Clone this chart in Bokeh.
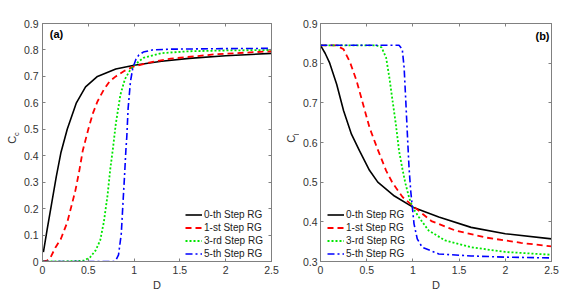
import math
from bokeh.plotting import figure
from bokeh.models import LinearAxis, FixedTicker, Label, Range1d
from bokeh.layouts import row
from bokeh.embed import file_html
from bokeh.resources import INLINE

# ---------------- data ----------------
series_names = ["0-th Step RG", "1-st Step RG", "3-rd Step RG", "5-th Step RG"]

# panel (a): C_c vs D
a0_D = [0.01, 0.05, 0.1, 0.15, 0.2, 0.27, 0.37, 0.47, 0.6, 0.8, 1.0, 1.3, 1.6, 2.0, 2.5]
a0_C = [0.035, 0.12, 0.22, 0.32, 0.41, 0.50, 0.60, 0.66, 0.70, 0.728, 0.742, 0.757, 0.768, 0.778, 0.787]

a1_D = [0, 0.05, 0.09, 0.14, 0.2, 0.27, 0.32, 0.36, 0.4, 0.44, 0.5, 0.55, 0.6, 0.67, 0.73, 0.8, 0.9, 1.0, 1.2, 1.4, 1.9, 2.5]
a1_C = [0, 0.003, 0.017, 0.052, 0.085, 0.148, 0.215, 0.27, 0.34, 0.42, 0.50, 0.56, 0.605, 0.65, 0.68, 0.70, 0.722, 0.738, 0.755, 0.767, 0.784, 0.795]

a3_D = [0, 0.2, 0.45, 0.52, 0.58, 0.63, 0.67, 0.71, 0.74, 0.77, 0.8, 0.85, 0.9, 0.95, 1.0, 1.1, 1.3, 1.6, 2.0, 2.5]
a3_C = [0, 0, 0.003, 0.016, 0.042, 0.08, 0.15, 0.25, 0.35, 0.43, 0.52, 0.63, 0.69, 0.72, 0.742, 0.77, 0.788, 0.795, 0.798, 0.80]

a5_D = [0, 0.78, 0.8, 0.83, 0.86, 0.88, 0.895, 0.91, 0.92, 0.935, 0.96, 0.985, 1.0, 1.02, 1.05, 1.1, 1.2, 1.4, 2.0, 2.5]
a5_C = [0, 0, 0.004, 0.025, 0.105, 0.23, 0.32, 0.42, 0.47, 0.58, 0.68, 0.73, 0.745, 0.765, 0.78, 0.792, 0.80, 0.803, 0.805, 0.806]

# panel (b): C_l vs D
b0_D = [0, 0.05, 0.1, 0.175, 0.25, 0.335, 0.42, 0.53, 0.62, 0.8, 1.0, 1.28, 1.63, 2.0, 2.5]
b0_C = [0.845, 0.825, 0.80, 0.747, 0.68, 0.621, 0.58, 0.53, 0.50, 0.465, 0.437, 0.412, 0.386, 0.37, 0.357]

b1_D = [0, 0.17, 0.25, 0.32, 0.39, 0.44, 0.53, 0.61, 0.71, 0.78, 0.89, 1.0, 1.2, 1.46, 1.8, 2.17, 2.5]
b1_C = [0.845, 0.845, 0.835, 0.802, 0.756, 0.714, 0.638, 0.588, 0.529, 0.498, 0.462, 0.44, 0.402, 0.378, 0.36, 0.347, 0.338]

b3_D = [0, 0.6, 0.66, 0.71, 0.745, 0.78, 0.815, 0.85, 0.89, 0.92, 0.96, 1.0, 1.07, 1.17, 1.35, 1.63, 2.0, 2.5]
b3_C = [0.845, 0.845, 0.84, 0.814, 0.764, 0.705, 0.647, 0.579, 0.529, 0.496, 0.46, 0.435, 0.41, 0.378, 0.353, 0.336, 0.324, 0.317]

b5_D = [0, 0.85, 0.885, 0.905, 0.923, 0.94, 0.958, 0.976, 0.994, 1.012, 1.047, 1.1, 1.28, 1.63, 2.0, 2.5]
b5_C = [0.845, 0.845, 0.835, 0.789, 0.705, 0.622, 0.537, 0.479, 0.437, 0.395, 0.357, 0.336, 0.319, 0.314, 0.311, 0.309]

x_ticks = [0, 0.5, 1, 1.5, 2, 2.5]
x_tick_labels = ["0", "0.5", "1", "1.5", "2", "2.5"]
ya_ticks = [0, 0.1, 0.2, 0.3, 0.4, 0.5, 0.6, 0.7, 0.8, 0.9]
ya_tick_labels = ["0", "0.1", "0.2", "0.3", "0.4", "0.5", "0.6", "0.7", "0.8", "0.9"]
yb_ticks = [0.3, 0.4, 0.5, 0.6, 0.7, 0.8, 0.9]
yb_tick_labels = ["0.3", "0.4", "0.5", "0.6", "0.7", "0.8", "0.9"]

# ---------------- styles ----------------
colors = ["#000000", "#ff0000", "#00e600", "#0000ff"]
dashes = ["solid", "6 4", "2 2", "7 3 2 3"]
widths = [1.6, 1.8, 1.8, 1.6]
FONT = "Liberation Sans"
AX_COLOR = "#808080"
TXT_COLOR = "#333333"
H = 295


def key(v):
    return int(v) if float(v).is_integer() else v


def style_axis(ax, ticks, labels, show_labels=True, standoff=4):
    ax.ticker = FixedTicker(ticks=ticks)
    ax.axis_line_color = AX_COLOR
    ax.major_tick_line_color = AX_COLOR
    ax.major_tick_in = 3
    ax.major_tick_out = 0
    ax.minor_tick_line_color = None
    ax.major_label_text_font = FONT
    if show_labels:
        ax.major_label_overrides = {key(t): l for t, l in zip(ticks, labels)}
        ax.major_label_text_color = TXT_COLOR
        ax.major_label_text_font_size = "10.5px"
        ax.major_label_standoff = standoff
    else:
        ax.major_label_text_color = None
        ax.major_label_text_font_size = "1px"
        ax.major_label_standoff = 0


def ylabel_strip(width, sub, c_pos, sub_pos):
    """Narrow strip holding the rotated axis title C with its subscript."""
    s = figure(width=width, height=H, x_range=Range1d(0, width), y_range=Range1d(0, H),
               min_border=0, output_backend="svg", toolbar_location=None)
    s.axis.visible = False
    s.grid.visible = False
    s.outline_line_color = None
    s.add_layout(Label(x=c_pos[0], y=c_pos[1], text="C", angle=math.pi / 2,
                       text_align="center", text_baseline="alphabetic", text_font=FONT,
                       text_font_size="11px", text_color=TXT_COLOR))
    s.add_layout(Label(x=sub_pos[0], y=sub_pos[1], text=sub, angle=math.pi / 2,
                       text_align="left", text_baseline="alphabetic", text_font=FONT,
                       text_font_size="7.5px", text_color=TXT_COLOR))
    return s


def make_panel(xs, ys, y0, y1, yt, ytl, width, border_left, border_right,
               tag, tag_pos, legend_loc, y_standoff):
    p = figure(width=width, height=H, min_border_left=border_left,
               min_border_right=border_right, min_border_top=23, min_border_bottom=34,
               x_range=Range1d(0, 2.5), y_range=Range1d(y0, y1),
               output_backend="svg", toolbar_location=None)
    p.grid.visible = False
    p.outline_line_color = AX_COLOR
    p.background_fill_color = "white"
    p.border_fill_color = "white"
    style_axis(p.xaxis[0], x_ticks, x_tick_labels)
    p.xaxis[0].axis_label = "D"
    p.xaxis[0].axis_label_text_font = FONT
    p.xaxis[0].axis_label_text_font_size = "11px"
    p.xaxis[0].axis_label_text_font_style = "normal"
    p.xaxis[0].axis_label_text_color = TXT_COLOR
    p.xaxis[0].axis_label_standoff = 2
    style_axis(p.yaxis[0], yt, ytl, standoff=y_standoff)
    top = LinearAxis()
    style_axis(top, x_ticks, x_tick_labels, show_labels=False)
    p.add_layout(top, "above")
    right = LinearAxis()
    style_axis(right, yt, ytl, show_labels=False)
    p.add_layout(right, "right")

    for i in range(4):
        p.line(xs[i], ys[i], line_color=colors[i], line_width=widths[i],
               line_dash=dashes[i], legend_label=series_names[i])

    lg = p.legend[0]
    lg.location = legend_loc
    lg.background_fill_alpha = 0
    lg.border_line_alpha = 0
    lg.label_text_font = FONT
    lg.label_text_font_size = "10px"
    lg.label_text_color = "#222222"
    lg.glyph_width = 17
    lg.glyph_height = 13
    lg.label_height = 13
    lg.label_standoff = 2
    lg.spacing = 0
    lg.padding = 0
    lg.margin = 0

    p.add_layout(Label(x=tag_pos[0], y=tag_pos[1], x_units="screen", y_units="screen",
                       text=tag, text_align="center", text_baseline="middle",
                       text_font=FONT, text_font_size="11px", text_font_style="bold",
                       text_color="#000000"))
    return p


la = ylabel_strip(20, "c", (11, 151), (15.5, 155.5))
pa = make_panel([a0_D, a1_D, a3_D, a5_D], [a0_C, a1_C, a3_C, a5_C], 0, 0.9,
                ya_ticks, ya_tick_labels, 260, 22, 9, "(a)", (14, 228), (143, 1), 4)
lb = ylabel_strip(19, "l", (10, 152), (15.5, 156.5))
pb = make_panel([b0_D, b1_D, b3_D, b5_D], [b0_C, b1_C, b3_C, b5_C], 0.3, 0.9,
                yb_ticks, yb_tick_labels, 264, 18, 12, "(b)", (222, 226), (7, 1), 3)

layout = row(la, pa, lb, pb, spacing=0)
open("out.html", "w").write(file_html(layout, INLINE))
